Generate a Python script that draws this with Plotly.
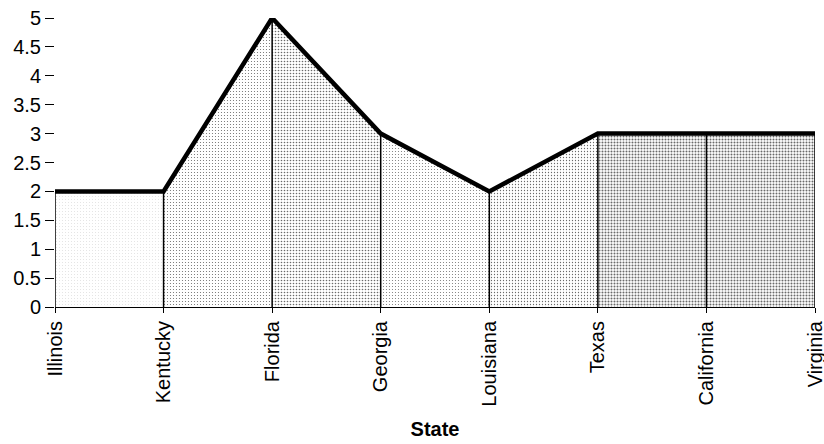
import plotly.graph_objects as go

states = ["Illinois", "Kentucky", "Florida", "Georgia", "Louisiana", "Texas", "California", "Virginia"]
values = [2, 2, 5, 3, 2, 3, 3, 3]
y_ticks = [0, 0.5, 1, 1.5, 2, 2.5, 3, 3.5, 4, 4.5, 5]
y_tick_labels = ["0", "0.5", "1", "1.5", "2", "2.5", "3", "3.5", "4", "4.5", "5"]

# stipple density of each segment between neighbouring states (style only)
segment_solidity = [0.02, 0.12, 0.22, 0.1, 0.14, 0.36, 0.36]

FONT = "Liberation Sans, Arial, sans-serif"

fig = go.Figure()

for i in range(len(states) - 1):
    fig.add_trace(go.Scatter(
        x=[states[i], states[i], states[i + 1], states[i + 1], states[i]],
        y=[0, values[i], values[i + 1], 0, 0],
        mode="none",
        fill="toself",
        fillcolor="rgba(0,0,0,0)",
        fillpattern=dict(shape=".", size=3, solidity=segment_solidity[i],
                         fgcolor="#6a6a6a", bgcolor="white", fillmode="replace"),
        hoverinfo="skip",
        showlegend=False,
    ))

# drop lines from each point to the axis
dx, dy = [], []
for s, v in zip(states, values):
    dx += [s, s, None]
    dy += [0, v, None]
fig.add_trace(go.Scatter(x=dx, y=dy, mode="lines",
                         line=dict(color="black", width=1.5),
                         cliponaxis=False, hoverinfo="skip", showlegend=False))

fig.add_trace(go.Scatter(x=states, y=values, mode="lines",
                         line=dict(color="black", width=4.5),
                         cliponaxis=False, showlegend=False))

fig.update_layout(
    width=824, height=444,
    margin=dict(l=55, r=9, t=18, b=137),
    paper_bgcolor="white", plot_bgcolor="white",
    font=dict(family=FONT, color="black", size=20),
)
fig.update_xaxes(
    type="category", range=[0, len(states) - 1], automargin=False,
    tickangle=-90, tickfont=dict(size=20, family=FONT),
    showgrid=False, zeroline=False,
    showline=True, linecolor="black", linewidth=1,
    ticks="outside", ticklen=5, tickcolor="black",
    title=dict(text="<b>State</b>", font=dict(size=20, family=FONT), standoff=16),
)
fig.update_yaxes(
    range=[0, 5], tickvals=y_ticks, ticktext=y_tick_labels, automargin=False,
    tickfont=dict(size=20, family=FONT),
    showgrid=False, zeroline=False, showline=False,
    ticks="outside", ticklen=9, tickcolor="black", tickwidth=1,
)

# remove the browser's default body margin so the figure sits at the window's corner
fig.write_html("out.html", config={"displayModeBar": False},
               post_script="document.body.style.margin='0';")
